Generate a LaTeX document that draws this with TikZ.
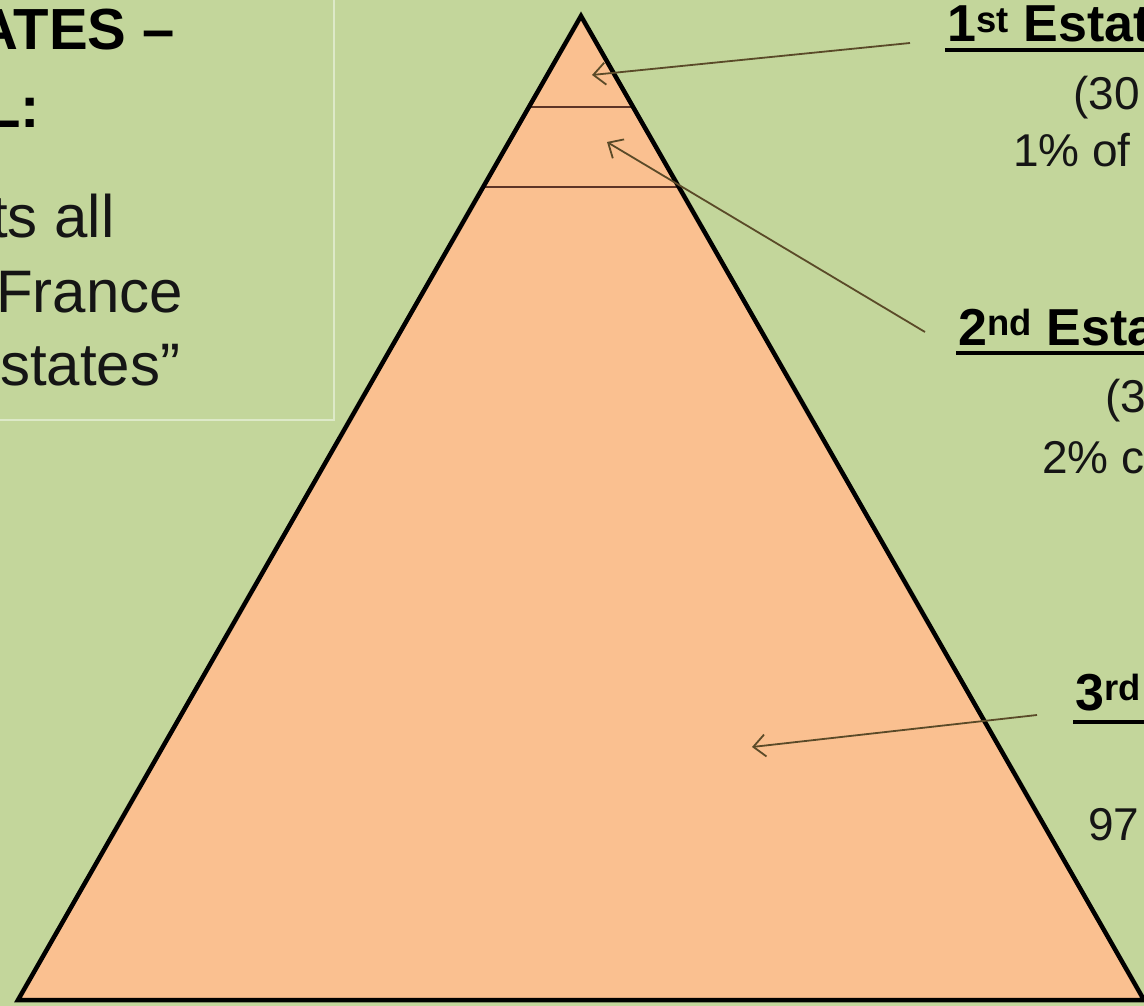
\documentclass[tikz,border=0pt]{standalone}
\usepackage{fontspec}
\setmainfont{Liberation Sans}
\usetikzlibrary{arrows.meta}
\definecolor{bggreen}{HTML}{C3D69B}
\definecolor{pyr}{HTML}{FAC090}
\definecolor{arr}{HTML}{5A4A28}
\definecolor{sepline}{HTML}{5C3426}
\definecolor{boxline}{HTML}{DDE9C8}
\definecolor{txt}{HTML}{151515}
\tikzset{
  bigtxt/.style={anchor=base west, inner sep=0pt, text=txt, font=\fontsize{60}{72}\selectfont},
  bigbold/.style={anchor=base west, inner sep=0pt, text=black, font=\fontsize{58}{70}\selectfont\bfseries},
  rtitle/.style={anchor=base west, inner sep=0pt, text=black, font=\fontsize{52}{62}\selectfont\bfseries},
  rtxt/.style={anchor=base west, inner sep=0pt, text=txt, font=\fontsize{46}{55}\selectfont},
  pointer/.style={draw=arr, line width=1.8pt, -{Straight Barb[length=12pt,width=22pt]}},
  uline/.style={draw=black, line width=4.5pt},
  tier/.style={draw=sepline, line width=2.5pt},
}
\begin{document}
\begin{tikzpicture}[x=1pt,y=-1pt]
\useasboundingbox (0,0) rectangle (1144,1006);
\begin{scope}
\clip (0,0) rectangle (1144,1006);
\fill[bggreen] (0,0) rectangle (1144,1006);

% left text box
\draw[boxline, line width=1.5pt] (-10,-10) rectangle (334,420);
\node[bigbold] (t1) at (-24,50) {ATES –};
\node[bigbold] (t2) at (-15,128) {L:};
\node[bigtxt] (t3) at (-9,237) {ts all};
\node[bigtxt] (t4) at (-4,312) {France};
\node[bigtxt] (t5) at (0,385) {states”};

% pyramid
\coordinate (apex) at (581,16);
\coordinate (bl) at (18,1000);
\coordinate (br) at (1144,1000);
\fill[pyr] (apex) -- (bl) -- (br) -- cycle;
\coordinate (s1l) at (529,107);
\coordinate (s1r) at (633,107);
\coordinate (s2l) at (484,187);
\coordinate (s2r) at (678,187);
\draw[tier] (s1l) -- (s1r);
\draw[tier] (s2l) -- (s2r);
\draw[line width=4.5pt, line join=miter] (apex) -- (bl) -- (br) -- cycle;

% right labels
\node[rtitle] (e1) at (947,42) {1\textsuperscript{st} Estat};
\draw[uline] (945,50) -- (1150,50);
\node[rtxt] (e1a) at (1073,110) {(30};
\node[rtxt] (e1b) at (1013,167) {1\% of};

\node[rtitle] (e2) at (958,345) {2\textsuperscript{nd} Esta};
\draw[uline] (956,353) -- (1150,353);
\node[rtxt] (e2a) at (1105,412) {(3};
\node[rtxt] (e2b) at (1042,473) {2\% c};

\node[rtitle] (e3) at (1075,710) {3\textsuperscript{rd}};
\draw[uline] (1073,722) -- (1150,722);
\node[rtxt] (e3a) at (1088,840) {97};

% pointers
\coordinate (a1s) at (910,43);
\coordinate (a1t) at (592,75);
\coordinate (a2s) at (925,332);
\coordinate (a2t) at (607,142);
\coordinate (a3s) at (1037,715);
\coordinate (a3t) at (752,747);
\draw[pointer] (a1s) -- (a1t);
\draw[pointer] (a2s) -- (a2t);
\draw[pointer] (a3s) -- (a3t);
\end{scope}
\end{tikzpicture}
\end{document}
